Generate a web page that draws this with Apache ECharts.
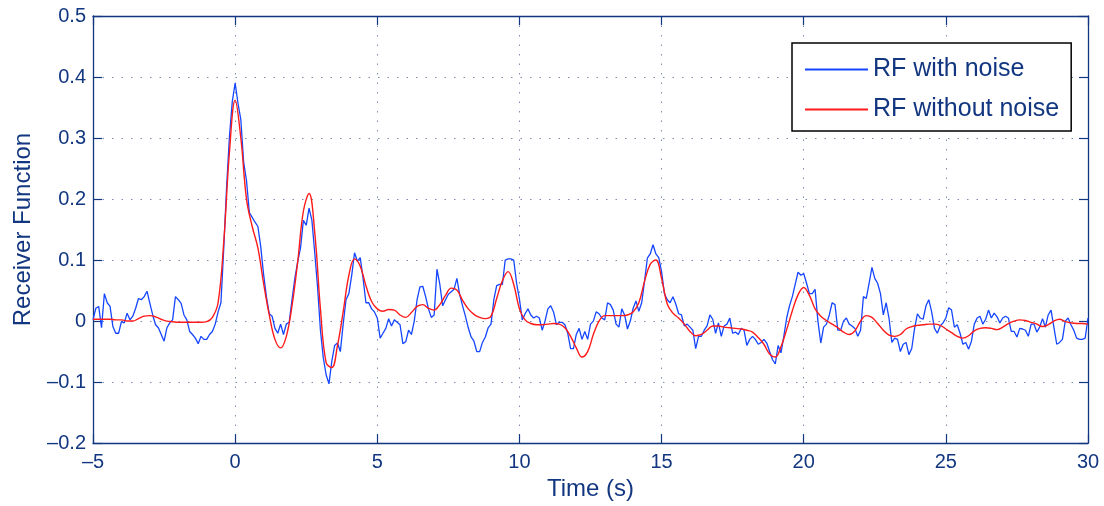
<!DOCTYPE html>
<html>
<head>
<meta charset="utf-8">
<script src="https://cdn.jsdelivr.net/npm/echarts@6/dist/echarts.min.js"></script>
<style>
html,body{margin:0;padding:0;background:#fff;}
#chart{width:1104px;height:506px;}
</style>
</head>
<body>
<div id="chart"></div>
<script>
// Time axis settings and tick labels
const xTicks = [-5, 0, 5, 10, 15, 20, 25, 30];
const yTicks = [-0.2, -0.1, 0, 0.1, 0.2, 0.3, 0.4, 0.5];

// RF with noise: sampled every 0.1 s from -5 s to 30 s
const noisyStart = -5;
const noisyStep = 0.1;
const rfNoisy = [
  0.002,0.021,0.024,-0.011,0.045,0.03,0.024,-0.009,-0.02,-0.02,
  -0.001,-0.003,0.013,0.002,0.008,0.021,0.037,0.035,0.04,0.049,
  0.029,0.01,-0.006,-0.011,-0.022,-0.033,-0.011,-0.003,0.002,0.04,
  0.035,0.029,0.01,0.002,-0.017,-0.022,-0.028,-0.037,-0.025,-0.03,
  -0.03,-0.022,-0.017,-0.005,0.015,0.03,0.12,0.22,0.303,0.36,
  0.39,0.357,0.33,0.26,0.23,0.178,0.17,0.162,0.155,0.122,
  0.077,0.04,0.012,0.008,-0.012,-0.02,-0.005,-0.022,-0.005,-0.002,
  0.035,0.07,0.097,0.12,0.165,0.157,0.185,0.165,0.112,0.055,
  -0.015,-0.06,-0.088,-0.103,-0.066,-0.04,-0.036,-0.05,-0.005,0.035,
  0.045,0.075,0.112,0.098,0.104,0.07,0.03,0.03,0.02,0.015,
  0.005,-0.028,-0.02,-0.012,0.004,-0.008,0.002,-0.002,-0.006,-0.037,
  -0.034,-0.015,-0.022,0.0,0.035,0.056,0.057,0.04,0.02,0.006,
  0.01,0.085,0.06,0.025,0.035,0.044,0.048,0.052,0.07,0.043,
  0.025,0.008,-0.011,-0.026,-0.033,-0.05,-0.05,-0.035,-0.026,-0.011,
  -0.005,0.035,0.058,0.06,0.06,0.1,0.102,0.102,0.1,0.062,
  0.036,0.002,0.012,0.02,0.01,0.005,0.008,0.005,-0.015,0.0,
  0.02,0.025,0.015,-0.006,-0.002,-0.002,-0.006,-0.02,-0.045,-0.045,
  -0.022,-0.012,-0.03,-0.017,-0.03,-0.005,0.0,0.015,0.012,0.005,
  0.002,0.03,0.027,0.018,-0.005,-0.01,0.02,0.01,-0.013,0.0,
  0.021,0.033,0.016,0.03,0.065,0.103,0.11,0.125,0.11,0.104,
  0.081,0.045,0.035,0.03,0.04,0.028,0.012,0.01,-0.008,-0.005,
  -0.01,-0.015,-0.045,-0.025,-0.025,-0.015,-0.008,0.01,0.003,-0.02,
  -0.003,-0.025,-0.008,-0.005,0.005,-0.02,-0.018,-0.022,-0.012,-0.015,
  -0.04,-0.03,-0.025,-0.03,-0.038,-0.035,-0.03,-0.036,-0.05,-0.063,
  -0.07,-0.04,-0.052,-0.025,0.005,0.025,0.04,0.06,0.08,0.075,
  0.078,0.062,0.045,0.045,0.052,0.0,-0.036,-0.01,-0.005,0.01,
  0.03,0.027,-0.015,-0.015,0.0,0.005,-0.005,-0.008,-0.012,-0.025,
  -0.015,0.04,0.037,0.062,0.088,0.07,0.062,0.045,0.01,0.03,
  0.005,-0.035,-0.028,-0.03,-0.05,-0.038,-0.035,-0.055,-0.045,-0.012,
  0.012,0.005,0.003,0.025,0.035,0.015,-0.012,-0.02,-0.008,-0.003,
  0.005,0.022,0.018,-0.01,-0.006,-0.02,-0.038,-0.035,-0.046,-0.033,
  -0.005,0.005,0.008,-0.005,0.003,0.018,0.005,0.013,0.007,-0.003,
  0.005,0.008,0.005,-0.017,-0.017,-0.026,-0.012,-0.013,-0.015,-0.025,
  -0.005,-0.005,-0.018,-0.01,0.004,-0.01,0.01,0.018,-0.01,-0.038,
  -0.035,-0.03,0.0,0.005,-0.006,-0.015,-0.028,-0.03,-0.03,-0.028,
  0.005
];

// RF without noise: sampled every 0.2 s from -5 s to 30 s
const cleanStart = -5;
const cleanStep = 0.2;
const rfClean = [
  0.003,0.003,0.003,0.003,0.002,
  0.002,0.0,0.0,0.004,0.008,
  0.009,0.007,0.003,0.0,-0.001,
  -0.002,-0.002,-0.002,-0.002,-0.002,
  -0.001,0.006,0.03,0.13,0.277,
  0.362,0.3,0.2,0.155,0.12,
  0.062,0.01,-0.03,-0.044,-0.025,
  0.025,0.097,0.18,0.209,0.145,
  0.02,-0.068,-0.076,-0.04,0.015,
  0.075,0.102,0.09,0.058,0.032,
  0.02,0.016,0.019,0.018,0.01,
  0.006,0.014,0.024,0.027,0.021,
  0.018,0.027,0.042,0.054,0.051,
  0.034,0.02,0.011,0.006,0.004,
  0.008,0.037,0.066,0.081,0.06,
  0.02,0.002,-0.004,-0.006,-0.006,
  -0.005,-0.004,-0.005,-0.011,-0.025,
  -0.044,-0.059,-0.05,-0.022,0.0,
  0.009,0.009,0.009,0.009,0.01,
  0.015,0.03,0.065,0.093,0.1,
  0.07,0.028,0.013,0.005,-0.005,
  -0.017,-0.024,-0.022,-0.015,-0.008,
  -0.008,-0.01,-0.011,-0.012,-0.013,
  -0.015,-0.018,-0.027,-0.038,-0.054,
  -0.059,-0.042,-0.014,0.017,0.043,
  0.055,0.042,0.02,0.008,0.001,
  -0.005,-0.011,-0.018,-0.022,-0.016,
  0.0,0.009,0.006,-0.004,-0.015,
  -0.023,-0.025,-0.022,-0.013,-0.009,
  -0.007,-0.006,-0.005,-0.005,-0.007,
  -0.013,-0.019,-0.025,-0.028,-0.024,
  -0.016,-0.012,-0.011,-0.012,-0.014,
  -0.01,-0.004,0.0,0.002,0.001,
  -0.002,-0.005,-0.009,-0.006,0.0,
  0.003,-0.001,-0.003,-0.004,-0.004,
  -0.005
];

const seriesNames = ['RF with noise', 'RF without noise'];
const xName = 'Time (s)';
const yName = 'Receiver Function';

const noisyData = rfNoisy.map((v, i) => [+(noisyStart + i * noisyStep).toFixed(2), v]);
const cleanData = rfClean.map((v, i) => [+(cleanStart + i * cleanStep).toFixed(2), v]);

const navy = '#123780';
const blue = '#1546ff';
const red = '#ff1a1a';
const fontFam = '"Liberation Sans", Helvetica, Arial, sans-serif';
const fmt = v => {
  const r = Math.round(v * 10) / 10;
  const s = String(Math.abs(r));
  return r < 0 ? '\u2013' + s : s;
};

const chart = echarts.init(document.getElementById('chart'), null, {renderer: 'canvas'});
chart.setOption({
  animation: false,
  backgroundColor: '#ffffff',
  grid: {left: 93, right: 16, top: 16, bottom: 60, containLabel: false},
  legend: {
    data: seriesNames.map(n => ({name: n, icon: 'rect'})),
    orient: 'vertical',
    left: 792,
    top: 43,
    backgroundColor: '#ffffff',
    borderColor: '#000000',
    borderWidth: 1.5,
    borderRadius: 0,
    padding: [14, 12, 9, 13],
    itemGap: 15,
    itemWidth: 63,
    itemHeight: 2,
    itemTextGap: 9,
    textStyle: {color: navy, fontSize: 25, fontFamily: fontFam}
  },
  xAxis: [{
    type: 'value', min: xTicks[0], max: xTicks[xTicks.length - 1], interval: 5,
    name: xName, nameLocation: 'middle', nameGap: 31,
    nameTextStyle: {color: navy, fontSize: 24, fontFamily: fontFam},
    axisLine: {onZero: false, lineStyle: {color: navy, width: 1.3}},
    axisTick: {inside: true, length: 9, lineStyle: {color: navy, width: 1.2}},
    axisLabel: {color: navy, fontSize: 20, fontFamily: fontFam, margin: 9, formatter: fmt},
    splitLine: {show: true, lineStyle: {color: '#7d8db0', width: 1, type: [1.5, 8]}}
  }, {
    type: 'value', position: 'top', min: xTicks[0], max: xTicks[xTicks.length - 1], interval: 5,
    axisLine: {onZero: false, lineStyle: {color: navy, width: 1.3}},
    axisTick: {inside: true, length: 9, lineStyle: {color: navy, width: 1.2}},
    axisLabel: {show: false}, splitLine: {show: false}
  }],
  yAxis: [{
    type: 'value', min: yTicks[0], max: yTicks[yTicks.length - 1], interval: 0.1,
    name: yName, nameLocation: 'middle', nameGap: 58,
    nameTextStyle: {color: navy, fontSize: 24, fontFamily: fontFam},
    axisLine: {show: true, onZero: false, lineStyle: {color: navy, width: 1.3}},
    axisTick: {show: true, inside: true, length: 9, lineStyle: {color: navy, width: 1.2}},
    axisLabel: {color: navy, fontSize: 20, fontFamily: fontFam, margin: 7, formatter: fmt},
    splitLine: {show: true, lineStyle: {color: '#7d8db0', width: 1, type: [1.5, 8]}}
  }, {
    type: 'value', position: 'right', min: yTicks[0], max: yTicks[yTicks.length - 1], interval: 0.1,
    axisLine: {show: true, onZero: false, lineStyle: {color: navy, width: 1.3}},
    axisTick: {show: true, inside: true, length: 9, lineStyle: {color: navy, width: 1.2}},
    axisLabel: {show: false}, splitLine: {show: false}
  }],
  series: [{
    name: seriesNames[0], type: 'line', data: noisyData,
    showSymbol: false, symbol: 'none',
    lineStyle: {color: blue, width: 1.3},
    itemStyle: {color: blue}, z: 3
  }, {
    name: seriesNames[1], type: 'line', data: cleanData,
    showSymbol: false, symbol: 'none', smooth: 0.4,
    lineStyle: {color: red, width: 1.4},
    itemStyle: {color: red}, z: 4
  }]
});
</script>
</body>
</html>
